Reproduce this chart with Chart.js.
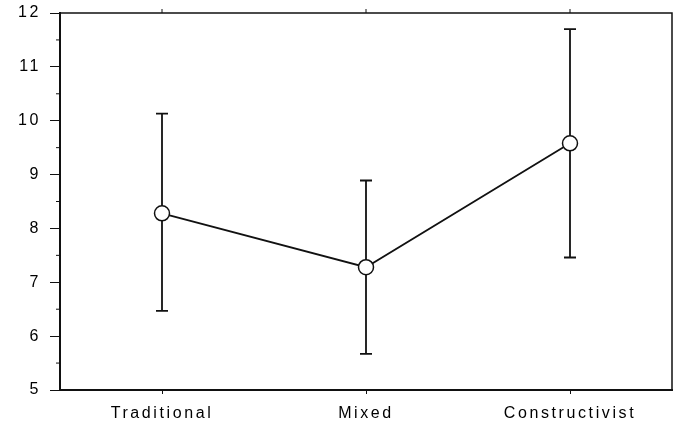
<!DOCTYPE html>
<html>
<head>
<meta charset="utf-8">
<script src="https://cdn.jsdelivr.net/npm/chart.js@4/dist/chart.umd.min.js"></script>
<style>
  html, body { margin: 0; padding: 0; background: #fff; }
  #wrap { width: 676px; height: 426px; }
</style>
</head>
<body>
<div id="wrap"><canvas id="chart" width="676" height="426"></canvas></div>
<script>
// group means with error bars
const categories = ['Traditional', 'Mixed', 'Constructivist'];
const means = [8.28, 7.28, 9.58];
const upper = [10.13, 8.89, 11.70];
const lower = [6.47, 5.67, 7.46];
const yTicks = [5, 6, 7, 8, 9, 10, 11, 12];

const spacing = '2.6px';

// whiskers, frame and minor ticks drawn through the chart scales
const extras = {
  id: 'extras',
  beforeLayout(chart) { chart.ctx.letterSpacing = spacing; },
  beforeDraw(chart) { chart.ctx.letterSpacing = spacing; },
  beforeDatasetsDraw(chart) {
    const { ctx, chartArea: a, scales: { x, y } } = chart;
    ctx.save();
    ctx.strokeStyle = '#111';
    ctx.lineWidth = 1.8;
    categories.forEach((c, i) => {
      const px = x.getPixelForValue(i);
      const top = y.getPixelForValue(upper[i]);
      const bot = y.getPixelForValue(lower[i]);
      ctx.beginPath();
      ctx.moveTo(px, top); ctx.lineTo(px, bot);
      ctx.moveTo(px - 6, top); ctx.lineTo(px + 6, top);
      ctx.moveTo(px - 6, bot); ctx.lineTo(px + 6, bot);
      ctx.stroke();
    });
    // top and right sides of the box
    ctx.lineWidth = 1.5;
    ctx.beginPath();
    ctx.moveTo(a.left, a.top); ctx.lineTo(a.right, a.top); ctx.lineTo(a.right, a.bottom);
    ctx.stroke();
    // small ticks on the top edge
    ctx.lineWidth = 1;
    categories.forEach((c, i) => {
      const px = x.getPixelForValue(i);
      ctx.beginPath();
      ctx.moveTo(px, a.top); ctx.lineTo(px, a.top - 4);
      ctx.stroke();
    });
    // minor ticks on the y axis
    for (let v = 5.5; v < 12; v += 1) {
      const py = y.getPixelForValue(v);
      ctx.beginPath();
      ctx.moveTo(a.left - 4, py); ctx.lineTo(a.left, py);
      ctx.stroke();
    }
    ctx.restore();
  }
};

new Chart(document.getElementById('chart'), {
  type: 'line',
  data: {
    labels: categories,
    datasets: [{
      data: means,
      borderColor: '#111',
      borderWidth: 1.8,
      tension: 0,
      pointRadius: 7.5,
      pointHoverRadius: 7.5,
      pointBackgroundColor: '#fff',
      pointBorderColor: '#111',
      pointBorderWidth: 1.5
    }]
  },
  options: {
    responsive: false,
    animation: false,
    layout: { autoPadding: false, padding: { top: 13, right: 4, left: 0, bottom: 0 } },
    plugins: { legend: { display: false }, tooltip: { enabled: false } },
    scales: {
      x: {
        type: 'category',
        offset: true,
        grid: { drawOnChartArea: false, tickLength: 4, tickColor: '#111' },
        border: { color: '#111', width: 2 },
        ticks: { color: '#000', padding: 10, font: { family: 'Liberation Sans', size: 16 } },
        afterFit(s) { s.height = 36; s.paddingLeft = 0; s.paddingRight = 0; }
      },
      y: {
        min: 5,
        max: 12,
        afterBuildTicks(s) { s.ticks = yTicks.map(v => ({ value: v })); },
        grid: { drawOnChartArea: false, tickLength: 10, tickColor: '#111' },
        border: { color: '#111', width: 2 },
        ticks: { color: '#000', padding: 9, font: { family: 'Liberation Sans', size: 16 } },
        afterFit(s) { s.width = 60; s.paddingTop = 0; s.paddingBottom = 0; }
      }
    }
  },
  plugins: [extras]
});
</script>
</body>
</html>
